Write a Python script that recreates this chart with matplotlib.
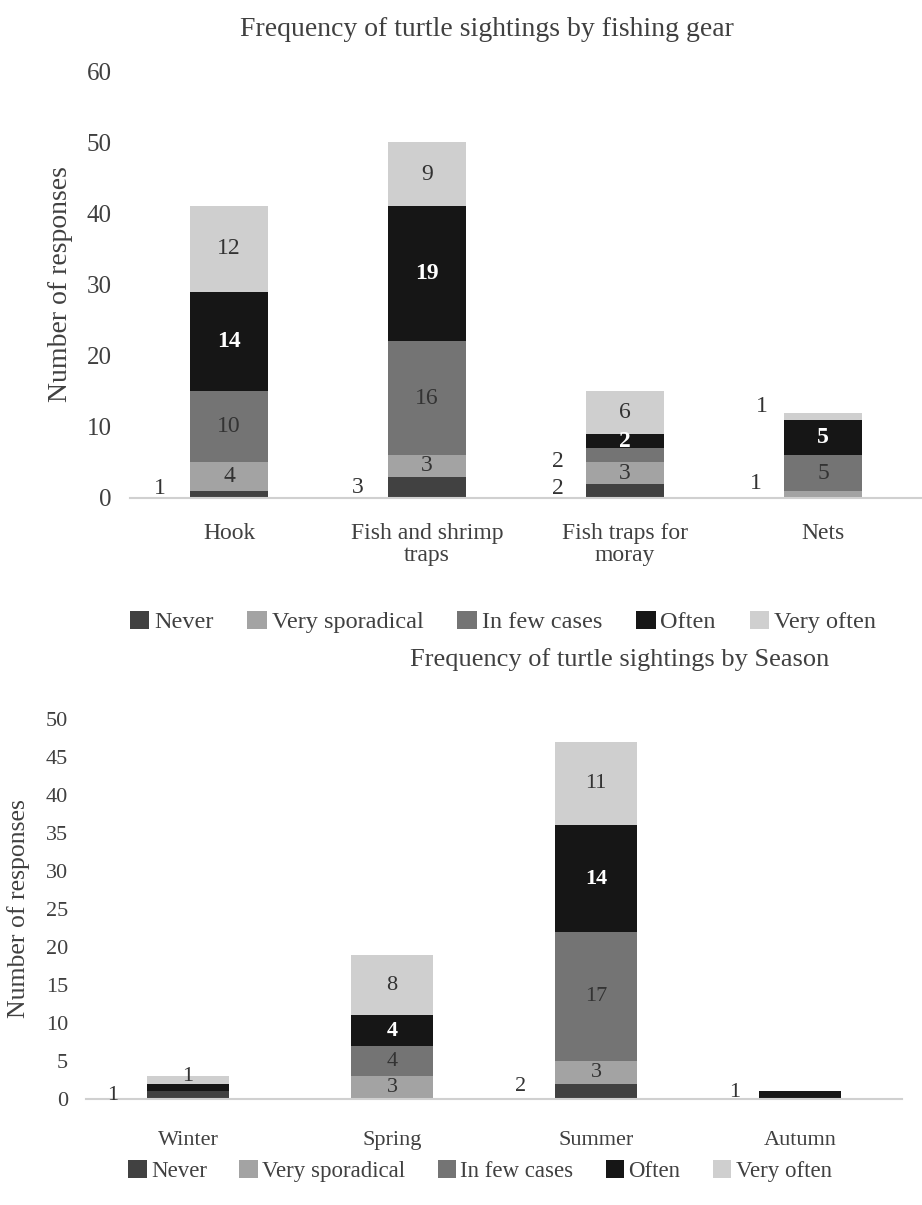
import matplotlib
matplotlib.use("Agg")
import matplotlib.pyplot as plt
from matplotlib.patches import Patch
import numpy as np

plt.rcParams['font.family'] = ['Liberation Serif', 'DejaVu Serif']

# ---------------- data ----------------
series_names = ['Never', 'Very sporadical', 'In few cases', 'Often', 'Very often']

gear_cats = ['Hook', 'Fish and shrimp\ntraps', 'Fish traps for\nmoray', 'Nets']
gear_never = [1, 3, 2, 0]
gear_sporadical = [4, 3, 3, 1]
gear_few = [10, 16, 2, 5]
gear_often = [14, 19, 2, 5]
gear_very_often = [12, 9, 6, 1]

season_cats = ['Winter', 'Spring', 'Summer', 'Autumn']
season_never = [1, 0, 2, 0]
season_sporadical = [0, 3, 3, 0]
season_few = [0, 4, 17, 0]
season_often = [1, 4, 14, 1]
season_very_often = [1, 8, 11, 0]

gear_ticks = [0, 10, 20, 30, 40, 50, 60]
season_ticks = list(range(0, 55, 5))

# ---------------- style ----------------
colors = ['#414141', '#a3a3a3', '#747474', '#161616', '#cfcfcf']
label_colors = ['#333333', '#333333', '#333333', 'white', '#333333']
text_col = '#404040'

# label placement tweaks: (cat, series) -> (dx, dy)   ; None = hidden
gear_label_pos = {
    (0, 0): (-0.35, 0.9),
    (1, 0): (-0.35, 0.0),
    (2, 0): (-0.34, 0.4),
    (2, 2): (-0.34, -0.9),
    (3, 1): (-0.34, 1.6),
    (3, 4): (-0.31, 1.3),
}
season_label_pos = {
    (0, 0): (-0.37, 0.0),
    (0, 3): None,
    (0, 4): (0.0, 0.45),
    (2, 0): (-0.37, 0.6),
    (3, 3): (-0.32, 0.3),
}

W, H = 922, 1205
fig = plt.figure(figsize=(W / 100, H / 100), dpi=100)


def px_axes(left, top, right, bottom):
    return fig.add_axes([left / W, 1 - bottom / H, (right - left) / W, (bottom - top) / H])


def draw(ax, cats, data, ylim, ticks, label_pos, fs_tick, fs_cat, fs_lab, fs_ylab, width):
    x = np.arange(len(cats))
    bottom = np.zeros(len(cats))
    for si, vals in enumerate(data):
        vals = np.array(vals, dtype=float)
        ax.bar(x, vals, width, bottom=bottom, color=colors[si], edgecolor='none', zorder=2)
        for ci, v in enumerate(vals):
            if v <= 0:
                continue
            key = (ci, si)
            mid = bottom[ci] + v / 2
            if key in label_pos:
                pos = label_pos[key]
                if pos is None:
                    continue
                dx, dy = pos
                ax.text(ci + dx, mid + dy, f'{int(v)}', ha='center', va='center',
                        fontsize=fs_lab, color='#333333', zorder=3)
            else:
                ax.text(ci, mid, f'{int(v)}', ha='center', va='center',
                        fontsize=fs_lab, color=label_colors[si], zorder=3,
                        fontweight='bold' if si == 3 else 'normal')
        bottom += vals
    ax.set_xlim(-0.5, len(cats) - 0.5)
    ax.set_ylim(*ylim)
    ax.set_yticks(ticks)
    ax.set_xticks(x)
    ax.set_xticklabels(cats, fontsize=fs_cat, linespacing=1.05)
    for s in ['top', 'right', 'left']:
        ax.spines[s].set_visible(False)
    ax.spines['bottom'].set_color('#d0d0d0')
    ax.spines['bottom'].set_linewidth(1.5)
    ax.tick_params(axis='y', length=0, labelsize=fs_tick, colors=text_col)
    ax.tick_params(axis='x', length=0, colors=text_col)
    ax.set_ylabel('Number of responses', fontsize=fs_ylab, color=text_col)


# top chart
ax1 = px_axes(130, 71, 922, 498)
draw(ax1, gear_cats,
     [gear_never, gear_sporadical, gear_few, gear_often, gear_very_often],
     (0, 60), gear_ticks, gear_label_pos, 18, 17, 17, 20, 0.39)
ax1.tick_params(axis='y', pad=13)
ax1.tick_params(axis='x', pad=18)
ax1.yaxis.set_label_coords(-0.072, 0.5)
fig.text(487 / W, 1 - 30 / H, 'Frequency of turtle sightings by fishing gear',
         ha='center', va='center', fontsize=20, color=text_col)

handles = [Patch(facecolor=c, edgecolor='none') for c in colors]
fig.legend(handles, series_names, loc='center', bbox_to_anchor=(503 / W, 1 - 622 / H),
           ncol=5, frameon=False, fontsize=17.5, handlelength=0.8, handleheight=0.8,
           handletextpad=0.2, columnspacing=1.4, labelcolor=text_col)

# bottom chart
ax2 = px_axes(86, 719, 902, 1099)
draw(ax2, season_cats,
     [season_never, season_sporadical, season_few, season_often, season_very_often],
     (0, 50), season_ticks, season_label_pos, 16, 16, 16, 18.5, 0.40)
ax2.tick_params(axis='y', pad=13)
ax2.tick_params(axis='x', pad=23)
ax2.yaxis.set_label_coords(-0.069, 0.5)
fig.text(620 / W, 1 - 660 / H, 'Frequency of turtle sightings by Season',
         ha='center', va='center', fontsize=19, color=text_col)
fig.legend(handles, series_names, loc='center', bbox_to_anchor=(480 / W, 1 - 1171 / H),
           ncol=5, frameon=False, fontsize=16.5, handlelength=0.8, handleheight=0.8,
           handletextpad=0.2, columnspacing=1.4, labelcolor=text_col)

fig.savefig('out.png', dpi=100)
